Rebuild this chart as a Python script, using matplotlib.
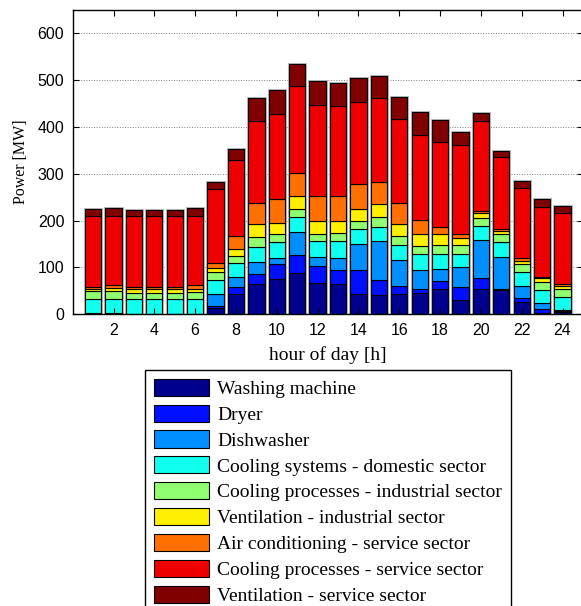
import numpy as np
import matplotlib
matplotlib.use("Agg")
import matplotlib.pyplot as plt
from matplotlib.patches import Patch

# hourly demand per load type [MW]
HOURS = np.arange(1, 25)
WASHING = [2, 3, 0, 0, 0, 0, 13, 43, 64.5, 74.5, 88.5, 67, 64, 42.5, 41, 43, 45, 55, 30.5, 55, 52, 25.5, 2, 4]
DRYER = [0, 0, 0, 0, 0, 0, 5, 15.5, 21, 32, 37.5, 35.5, 30.5, 51.5, 32, 17.5, 8.5, 17, 28, 21.5, 3, 8.5, 8.5, 3]
DISHWASHER = [0, 0, 0, 0, 0, 0, 25.5, 21.5, 26.5, 14, 49.5, 20, 25, 55.5, 83, 56, 41, 25, 41.5, 81.5, 67.5, 27, 13, 2]
COOL_DOM = [30.5, 29, 32.5, 32.5, 32.5, 32.5, 30, 28.5, 32, 33, 32, 33.5, 37, 33.5, 30.5, 32.5, 34, 32.5, 28.5, 30, 32, 28.5, 29, 28.5]
COOL_IND = [17, 17, 14, 14, 14, 15.5, 17, 15.5, 21, 17, 18, 16.5, 17.5, 16, 21, 18, 18, 19, 18.5, 18.5, 16, 18, 17, 17]
VENT_IND = [5, 8, 8, 8, 8, 7, 8, 14.5, 27, 25, 26.5, 27, 25.5, 25, 27, 26.5, 25.5, 23.5, 16, 10, 6.5, 7, 8, 6]
AIRCON = [4, 5, 3, 3, 3, 7, 12, 28, 46, 50, 49, 54, 54, 54.5, 47.5, 44.5, 30, 15, 8, 4.5, 6, 6, 3, 3.5]
COOL_SERV = [150.5, 149, 153, 153, 153, 149, 157, 162, 174, 183, 187, 193.5, 191.5, 176, 179.5, 179, 181.5, 180, 191, 192, 152, 149, 149.5, 152.5]
VENT_SERV = [16.5, 15.5, 13, 13, 13, 16, 15, 24, 49.5, 51, 47.5, 51, 49.5, 50, 48.5, 48, 49, 48, 27, 17, 14.5, 15.5, 15.5, 14]

LABELS = [
    "Washing machine",
    "Dryer",
    "Dishwasher",
    "Cooling systems - domestic sector",
    "Cooling processes - industrial sector",
    "Ventilation - industrial sector",
    "Air conditioning - service sector",
    "Cooling processes - service sector",
    "Ventilation - service sector",
]
# jet-like colours, one per load type
COLORS = ["#00008F", "#0010FF", "#008FFF", "#10FFEF", "#8FFF70",
          "#FFEF00", "#FF7000", "#EF0000", "#800000"]

SERIES = [WASHING, DRYER, DISHWASHER, COOL_DOM, COOL_IND,
          VENT_IND, AIRCON, COOL_SERV, VENT_SERV]

SANS = "Liberation Sans"
SERIF = "Liberation Serif"

fig = plt.figure(figsize=(5.81, 6.06), dpi=100)
ax = fig.add_axes([0.1251, 0.4814, 0.8783, 0.5021])

# dotted horizontal grid behind the bars
for yv in range(100, 700, 100):
    ax.axhline(yv, color="#808080", ls=":", lw=0.7, zorder=0)

data = np.array(SERIES, dtype=float)
totals = data.sum(axis=0)
# soft grey outline round each stack
ax.bar(HOURS, totals, width=0.8, facecolor="none", edgecolor="#bcbcbc",
       linewidth=2.2, zorder=0.8)

bottom = np.zeros(len(HOURS))
for vals, col in zip(data, COLORS):
    ax.bar(HOURS, vals, width=0.8, bottom=bottom, color=col,
           edgecolor="black", linewidth=0.8, zorder=1)
    bottom += vals

ax.set_xlim(0, 25)
ax.set_ylim(0, 650)
ax.set_xticks(np.arange(2, 25, 2))
ax.set_yticks(np.arange(0, 700, 100))
ax.tick_params(direction="in", length=4, width=0.8, top=True, right=True,
               labelsize=11.5, pad=6)
for lab in ax.get_xticklabels() + ax.get_yticklabels():
    lab.set_fontfamily(SANS)
for s in ax.spines.values():
    s.set_linewidth(1.0)
    s.set_zorder(3)

ax.set_xlabel("hour of day [h]", fontfamily=SERIF, fontsize=14, labelpad=6)
ax.set_ylabel("Power [MW]", fontfamily=SERIF, fontsize=11.5, labelpad=6)

handles = [Patch(facecolor=c, edgecolor="black", linewidth=0.8) for c in COLORS]
leg = fig.legend(handles, LABELS, loc="upper left",
                 bbox_to_anchor=(145 / 581, 1 - 370 / 606),
                 bbox_transform=fig.transFigure,
                 prop={"family": SERIF, "size": 14},
                 frameon=True, fancybox=False, framealpha=1,
                 edgecolor="black", borderaxespad=0, borderpad=0.45,
                 handlelength=2.85, handleheight=0.98, handletextpad=0.4,
                 labelspacing=0.34)
leg.get_frame().set_linewidth(1.0)

fig.savefig("out.png", dpi=100)
